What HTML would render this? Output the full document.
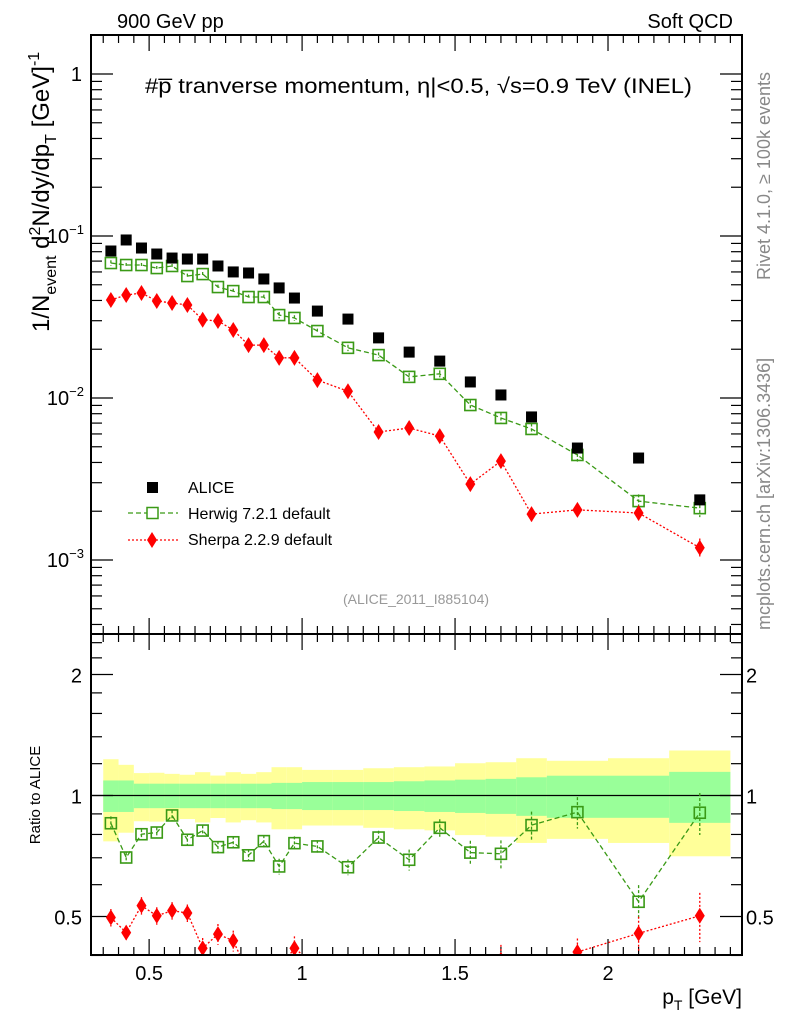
<!DOCTYPE html>
<html><head><meta charset="utf-8"><style>
body{margin:0;background:#fff;}
svg{display:block;font-family:"Liberation Sans",sans-serif;}
</style></head><body>
<svg id="chart" width="786" height="1024" viewBox="0 0 786 1024" xmlns="http://www.w3.org/2000/svg">
<defs>
<clipPath id="mainClip"><rect x="91" y="35" width="651" height="599"/></clipPath>
<clipPath id="ratioClip"><rect x="91" y="634" width="651" height="321"/></clipPath>
</defs>
<g id="bands" clip-path="url(#ratioClip)"></g>
<g id="ticks"></g>
<g id="series"></g>
<rect x="91" y="35" width="651" height="599" fill="none" stroke="#000" stroke-width="2"/>
<rect x="91" y="634" width="651" height="321" fill="none" stroke="#000" stroke-width="2"/>
<text x="117" y="28" font-size="20">900 GeV pp</text>
<text x="733" y="28" font-size="20" text-anchor="end">Soft QCD</text>
<text x="145" y="93" font-size="21" textLength="547" lengthAdjust="spacingAndGlyphs">#p̅ tranverse momentum, η|&lt;0.5, √s=0.9 TeV (INEL)</text>
<text transform="translate(49,332) rotate(-90)" font-size="24">1/N<tspan font-size="16" dy="7">event</tspan><tspan dy="-7"> d</tspan><tspan font-size="16" dy="-9">2</tspan><tspan dy="9">N/dy/dp</tspan><tspan font-size="16" dy="7">T</tspan><tspan dy="-7">  [GeV]</tspan><tspan font-size="16" dy="-10">-1</tspan></text>
<text transform="translate(770,280) rotate(-90)" font-size="18" fill="#888">Rivet 4.1.0, ≥ 100k events</text>
<text transform="translate(770,630) rotate(-90)" font-size="18" fill="#888">mcplots.cern.ch [arXiv:1306.3436]</text>
<text x="416" y="604" font-size="14" fill="#999" text-anchor="middle">(ALICE_2011_I885104)</text>
<text transform="translate(40,795) rotate(-90)" font-size="15" text-anchor="middle">Ratio to ALICE</text>
<text x="742" y="1004" font-size="21" text-anchor="end">p<tspan font-size="14" dy="6">T</tspan><tspan dy="-6"> [GeV]</tspan></text>
<g>
<rect x="147" y="482" width="11" height="11" fill="#000"/>
<text x="188" y="493" font-size="16">ALICE</text>
<line x1="128" y1="513" x2="178" y2="513" stroke="#3a9a16" stroke-width="1.3" stroke-dasharray="5,3"/>
<rect x="147" y="507.5" width="11" height="11" fill="#fff" stroke="#3a9a16" stroke-width="1.5"/>
<text x="188" y="519" font-size="16">Herwig 7.2.1 default</text>
<line x1="128" y1="540" x2="178" y2="540" stroke="#f00" stroke-width="1.3" stroke-dasharray="2,2"/>
<polygon points="152,532 157,540 152,548 147,540" fill="#f00"/>
<text x="188" y="545" font-size="16">Sherpa 2.2.9 default</text>
</g>
</svg>
<script>
const xCenters=[0.375,0.425,0.475,0.525,0.575,0.625,0.675,0.725,0.775,0.825,0.875,0.925,0.975,1.05,1.15,1.25,1.35,1.45,1.55,1.65,1.75,1.9,2.1,2.3];
const binEdges=[0.35,0.4,0.45,0.5,0.55,0.6,0.65,0.7,0.75,0.8,0.85,0.9,0.95,1.0,1.1,1.2,1.3,1.4,1.5,1.6,1.7,1.8,2.0,2.2,2.4];
const aliceVals=[0.0808,0.0945,0.0843,0.0774,0.0731,0.0721,0.0721,0.0653,0.060,0.0591,0.0543,0.0478,0.0414,0.0344,0.0307,0.0235,0.0192,0.0169,0.01256,0.01044,0.00764,0.00491,0.00426,0.00235];
const herwigVals=[0.0681,0.0662,0.0662,0.0634,0.0653,0.0566,0.0582,0.0484,0.0457,0.0420,0.0420,0.0325,0.0312,0.0259,0.0204,0.0184,0.0135,0.0141,0.00905,0.00753,0.00644,0.00445,0.00231,0.00209];
const sherpaVals=[0.0403,0.0432,0.0445,0.0397,0.0386,0.0375,0.0304,0.0299,0.0263,0.0212,0.0212,0.0177,0.0177,0.0129,0.0110,0.00617,0.00653,0.00582,0.00294,0.00408,0.00192,0.00204,0.00195,0.00119];
const herwigRatio=[0.853,0.701,0.801,0.809,0.892,0.776,0.818,0.744,0.765,0.710,0.770,0.666,0.761,0.747,0.663,0.786,0.692,0.831,0.721,0.716,0.844,0.909,0.544,0.906];
const sherpaRatio=[0.497,0.456,0.532,0.502,0.517,0.510,0.417,0.452,0.435,0.36,0.38,0.37,0.417,0.375,0.36,0.27,0.34,0.34,0.23,0.39,0.25,0.408,0.454,0.502];
const herwigErr=[0.04,0.03,0.03,0.03,0.03,0.035,0.03,0.035,0.035,0.035,0.035,0.045,0.04,0.035,0.045,0.04,0.06,0.05,0.07,0.08,0.08,0.09,0.1,0.12];
const sherpaErr=[0.05,0.04,0.05,0.05,0.05,0.05,0.06,0.06,0.06,0.06,0.06,0.07,0.07,0.07,0.07,0.08,0.08,0.08,0.09,0.09,0.1,0.08,0.1,0.14];
const totErr=[0.231,0.192,0.137,0.139,0.132,0.126,0.143,0.121,0.143,0.132,0.143,0.176,0.176,0.158,0.158,0.169,0.176,0.181,0.203,0.210,0.238,0.220,0.238,0.294];
const statErr=[0.09,0.09,0.07,0.07,0.07,0.07,0.07,0.07,0.07,0.07,0.07,0.075,0.075,0.08,0.08,0.08,0.085,0.09,0.095,0.10,0.11,0.12,0.12,0.145];
const xMajor=[0.5,1,1.5,2];
const xMajorLabels=["0.5","1","1.5","2"];
const yDecades=[0,-1,-2,-3];
const ratioMajor=[0.5,1,2];
const ratioLabels=["0.5","1","2"];
const NS="http://www.w3.org/2000/svg";
const X0=91,X1=742,XMIN=0.31,XMAX=2.438;
const sx=v=>X0+(v-XMIN)/(XMAX-XMIN)*(X1-X0);
const sy=v=>74-162*Math.log10(v);
const sr=v=>795.5-121*Math.log2(v);
function mk(tag,attrs,parent){const e=document.createElementNS(NS,tag);for(const k in attrs)e.setAttribute(k,attrs[k]);parent.appendChild(e);return e;}
const bands=document.getElementById('bands'),ticks=document.getElementById('ticks'),series=document.getElementById('series');
for(let i=0;i<totErr.length;i++){
  const y=mk('rect',{x:sx(binEdges[i]),width:sx(binEdges[i+1])-sx(binEdges[i]),y:sr(1+totErr[i]),height:sr(1-totErr[i])-sr(1+totErr[i]),fill:'#ffff99'},bands);
  
  
}
for(let i=0;i<statErr.length;i++){
  const g=mk('rect',{x:sx(binEdges[i]),width:sx(binEdges[i+1])-sx(binEdges[i]),y:sr(1+statErr[i]),height:sr(1-statErr[i])-sr(1+statErr[i]),fill:'#99ff99'},bands);
  
  
}
mk('line',{x1:X0,x2:X1,y1:sr(1),y2:sr(1),stroke:'#000','stroke-width':1.3},bands);
for(let v=0.35;v<=2.4001;v+=0.05){
  const major=xMajor.some(m=>Math.abs(m-v)<1e-6);const L=major?16:8;const x=sx(v);
  [[35,1],[634,-1],[634,1],[955,-1]].forEach(([y0,d])=>mk('line',{x1:x,x2:x,y1:y0,y2:y0+d*L,stroke:'#000','stroke-width':1.2},ticks));
}
xMajor.forEach((v,i)=>{const t=mk('text',{x:sx(v),y:980,'font-size':20,'text-anchor':'middle'},ticks);t.textContent=xMajorLabels[i];

});
yDecades.forEach(d=>{
  const y=sy(Math.pow(10,d));
  [[X0,1],[X1,-1]].forEach(([x0,s])=>mk('line',{x1:x0,x2:x0+s*22,y1:y,y2:y,stroke:'#000','stroke-width':1.2},ticks));
  const t=mk('text',{x:d===0?82:84,y:y+7,'font-size':20,'text-anchor':'end'},ticks);
  
  
  if(d===0)t.textContent='1';else{t.innerHTML='10<tspan font-size="13" dy="-9">−'+(-d)+'</tspan>';}
});
for(let d=-4;d<=1;d++)for(let m=2;m<=9;m++){const v=m*Math.pow(10,d);const y=sy(v);if(y<36||y>633)continue;
  [[X0,1],[X1,-1]].forEach(([x0,s])=>mk('line',{x1:x0,x2:x0+s*11,y1:y,y2:y,stroke:'#000','stroke-width':1.2},ticks));}
const rminor=[0.4,0.6,0.7,0.8,0.9,1.2,1.4,1.6,1.8,2.2,2.4];
rminor.forEach(v=>{const y=sr(v);[[X0,1],[X1,-1]].forEach(([x0,s])=>mk('line',{x1:x0,x2:x0+s*11,y1:y,y2:y,stroke:'#000','stroke-width':1.2},ticks));});
ratioMajor.forEach((v,i)=>{const y=sr(v);[[X0,1],[X1,-1]].forEach(([x0,s])=>mk('line',{x1:x0,x2:x0+s*22,y1:y,y2:y,stroke:'#000','stroke-width':1.2},ticks));
  const t=mk('text',{x:82,y:y+8,'font-size':20,'text-anchor':'end'},ticks);t.textContent=ratioLabels[i];
  
  
  const t2=mk('text',{x:746,y:y+8,'font-size':20},ticks);t2.textContent=ratioLabels[i];
  
  });
function drawLine(vals,fy,color,dash,clip,name){
  const g=mk('g',{'clip-path':clip},series);
  
  
  mk('polyline',{points:vals.map((v,i)=>sx(xCenters[i])+','+fy(v)).join(' '),fill:'none',stroke:color,'stroke-width':1.3,'stroke-dasharray':dash},g);
  return g;
}
function drawSquares(g,vals,fy,errs,name){
  vals.forEach((v,i)=>{const x=sx(xCenters[i]),y=fy(v);
    mk('line',{x1:x,x2:x,y1:fy(v*(1+errs[i])),y2:fy(v*(1-errs[i])),stroke:'#3a9a16','stroke-width':1.3,'stroke-dasharray':'3,2'},g);
    const r=mk('rect',{x:x-5.5,y:y-5.5,width:11,height:11,fill:'none',stroke:'#3a9a16','stroke-width':1.6},g);
    
    });
}
function drawDiamonds(g,vals,fy,errs,name){
  vals.forEach((v,i)=>{const x=sx(xCenters[i]),y=fy(v);
    mk('line',{x1:x,x2:x,y1:fy(v*(1+errs[i])),y2:fy(v*(1-errs[i])),stroke:'#f00','stroke-width':1.3,'stroke-dasharray':'2,2'},g);
    const p=mk('polygon',{points:`${x},${y-8} ${x+5},${y} ${x},${y+8} ${x-5},${y}`,fill:'#f00'},g);
    
    });
}
const gh=drawLine(herwigVals,sy,'#3a9a16','5,3','url(#mainClip)','herwig-series');
drawSquares(gh,herwigVals,sy,herwigErr,'herwig-point');
const gs=drawLine(sherpaVals,sy,'#f00','2,2','url(#mainClip)','sherpa-series');
drawDiamonds(gs,sherpaVals,sy,sherpaErr,'sherpa-point');
const ga=mk('g',{},series);


aliceVals.forEach((v,i)=>{const r=mk('rect',{x:sx(xCenters[i])-5.5,y:sy(v)-5.5,width:11,height:11,fill:'#000'},ga);
  
  });
const grh=drawLine(herwigRatio,sr,'#3a9a16','5,3','url(#ratioClip)','herwig-ratio-series');
drawSquares(grh,herwigRatio,sr,herwigErr,'herwig-ratio-point');
const grs=drawLine(sherpaRatio,sr,'#f00','2,2','url(#ratioClip)','sherpa-ratio-series');
drawDiamonds(grs,sherpaRatio,sr,sherpaErr,'sherpa-ratio-point');
</script>
</body></html>
